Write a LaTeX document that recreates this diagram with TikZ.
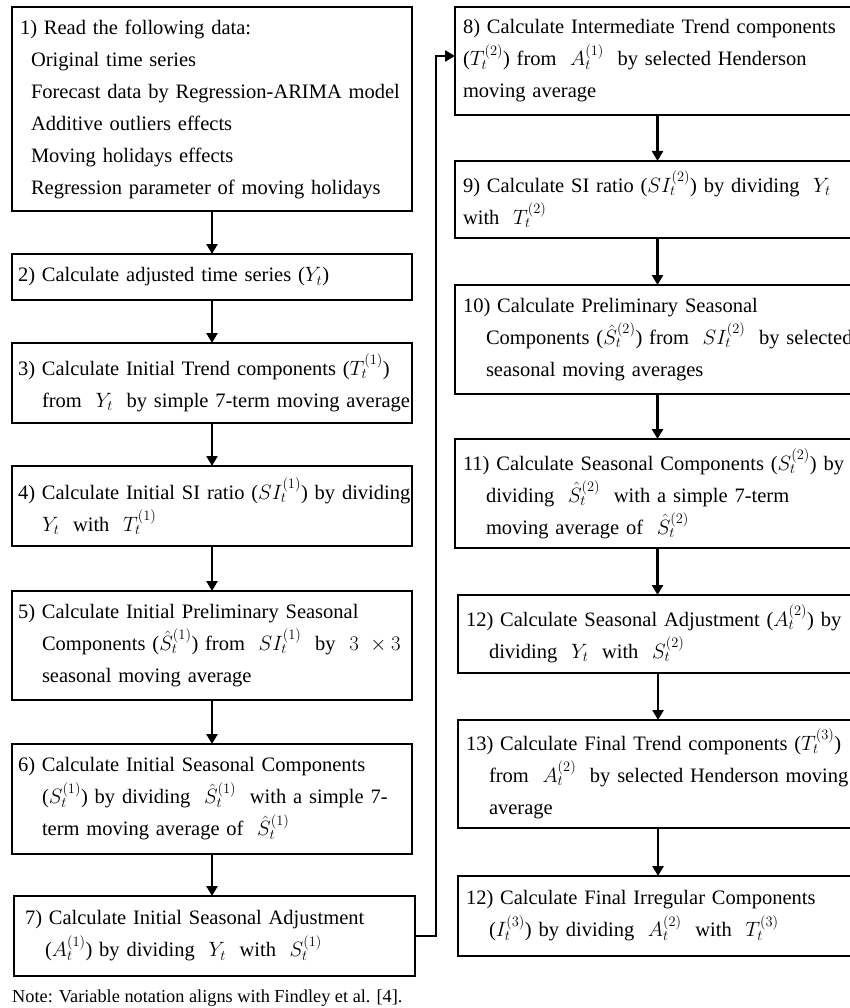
\documentclass[tikz,border=0pt]{standalone}
\usepackage{fontspec}
\setmainfont{Liberation Serif}
\usetikzlibrary{arrows.meta}
\newcommand{\ind}{\hspace*{24pt}}
\newcommand{\rind}{\hspace*{23pt}}
\tikzset{
  box/.style={draw, line width=2.6pt, anchor=north west, align=left, outer sep=0pt,
    inner ysep=0pt, font=\fontsize{20.5}{32}\selectfont},
  arr/.style={line width=2.6pt, -{Triangle[length=10pt,width=11pt]}}
}
\begin{document}
\begin{tikzpicture}[x=1pt,y=-1pt]
\useasboundingbox (0,0) rectangle (849,1008);
% left column
\node[box, minimum width=400pt, minimum height=204pt, inner xsep=8pt, text width=384pt] (b1) at (12,7)
 {\mbox{1) Read the following data:}\\
  \mbox{\hspace*{11pt}Original time series}\\
  \mbox{\hspace*{11pt}Forecast data by Regression-ARIMA model}\\
  \mbox{\hspace*{11pt}Additive outliers effects}\\
  \mbox{\hspace*{11pt}Moving holidays effects}\\
  \mbox{\hspace*{11pt}Regression parameter of moving holidays}};
\node[box, minimum width=400pt, minimum height=46pt, inner xsep=6pt, text width=388pt] (b2) at (12,254)
 {\mbox{2) Calculate adjusted time series ($Y_t$)}};
\node[box, minimum width=400pt, minimum height=80pt, inner xsep=6pt, text width=388pt] (b3) at (12,343)
 {\mbox{3) Calculate Initial Trend components ($T_t^{(1)}$)}\\
  \mbox{\ind from \ $Y_t$ \ by simple 7-term moving average}};
\node[box, minimum width=400pt, minimum height=80pt, inner xsep=6pt, text width=388pt] (b4) at (12,466)
 {\mbox{4) Calculate Initial SI ratio ($SI_t^{(1)}$) by dividing}\\
  \mbox{\ind $Y_t$ \ with \ $T_t^{(1)}$}};
\node[box, minimum width=400pt, minimum height=109pt, inner xsep=6pt, text width=388pt] (b5) at (12,591)
 {\mbox{5) Calculate Initial Preliminary Seasonal}\\
  \mbox{\ind Components ($\hat{S}_t^{(1)}$) from \ $SI_t^{(1)}$ \ by \ $3\ \times 3$}\\
  \mbox{\ind seasonal moving average}};
\node[box, minimum width=400pt, minimum height=110pt, inner xsep=6pt, text width=388pt] (b6) at (12,744)
 {\mbox{6) Calculate Initial Seasonal Components}\\
  \mbox{\ind ($S_t^{(1)}$) by dividing \ $\hat{S}_t^{(1)}$ \ with a simple 7-}\\
  \mbox{\ind term moving average of \ $\hat{S}_t^{(1)}$}};
\node[box, minimum width=401pt, minimum height=80pt, inner xsep=11pt, text width=379pt] (b7) at (14,896)
 {\mbox{7) Calculate Initial Seasonal Adjustment}\\
  \mbox{\hspace*{20pt}($A_t^{(1)}$) by dividing \ $Y_t$ \ with \ $S_t^{(1)}$}};
% right column
\node[box, minimum width=405pt, minimum height=108pt, inner xsep=8pt, text width=389pt] (b8) at (455,7)
 {\mbox{8) Calculate Intermediate Trend components}\\
  \mbox{($T_t^{(2)}$) from \ $A_t^{(1)}$ \ by selected Henderson}\\
  \mbox{moving average}};
\node[box, minimum width=405pt, minimum height=77pt, inner xsep=8pt, text width=389pt] (b9) at (455,161)
 {\mbox{9) Calculate SI ratio ($SI_t^{(2)}$) by dividing \ $Y_t$}\\
  \mbox{with \ $T_t^{(2)}$}};
\node[box, minimum width=405pt, minimum height=109pt, inner xsep=8pt, text width=389pt] (b10) at (455,285)
 {\mbox{10) Calculate Preliminary Seasonal}\\
  \mbox{\rind Components ($\hat{S}_t^{(2)}$) from \ $SI_t^{(2)}$ \ by selected}\\
  \mbox{\rind seasonal moving averages}};
\node[box, minimum width=405pt, minimum height=109pt, inner xsep=8pt, text width=389pt] (b11) at (455,439)
 {\mbox{11) Calculate Seasonal Components ($S_t^{(2)}$) by}\\
  \mbox{\rind dividing \ $\hat{S}_t^{(2)}$ \ with a simple 7-term}\\
  \mbox{\rind moving average of \ $\hat{S}_t^{(2)}$}};
\node[box, minimum width=400pt, minimum height=78pt, inner xsep=8pt, text width=384pt] (b12) at (458,595)
 {\mbox{12) Calculate Seasonal Adjustment ($A_t^{(2)}$) by}\\
  \mbox{\rind dividing \ $Y_t$ \ with \ $S_t^{(2)}$}};
\node[box, minimum width=400pt, minimum height=108pt, inner xsep=8pt, text width=384pt] (b13) at (458,720)
 {\mbox{13) Calculate Final Trend components ($T_t^{(3)}$)}\\
  \mbox{\rind from \ $A_t^{(2)}$ \ by selected Henderson moving}\\
  \mbox{\rind average}};
\node[box, minimum width=400pt, minimum height=80pt, inner xsep=8pt, text width=384pt] (b14) at (458,876)
 {\mbox{12) Calculate Final Irregular Components}\\
  \mbox{\rind ($I_t^{(3)}$) by dividing \ $A_t^{(2)}$ \ with \ $T_t^{(3)}$}};
% note
\node[anchor=base west, inner sep=0pt, font=\fontsize{18.3}{22}\selectfont] (note) at (12,1002)
 {Note: Variable notation aligns with Findley et al. [4].};
% connectors
\draw[arr] (b1.south) -- (b2.north);
\draw[arr] (b2.south) -- (b3.north);
\draw[arr] (b3.south) -- (b4.north);
\draw[arr] (b4.south) -- (b5.north);
\draw[arr] (b5.south) -- (b6.north);
\draw[arr] (b6.south) -- (b6.south |- b7.north);
\draw[arr] (b7.east) -- ++(21,0) |- ([yshift=5pt]b8.west);
\draw[arr] (b8.south) -- (b9.north);
\draw[arr] (b9.south) -- (b10.north);
\draw[arr] (b10.south) -- (b11.north);
\draw[arr] (b11.south) -- (b11.south |- b12.north);
\draw[arr] (b12.south) -- (b13.north);
\draw[arr] (b13.south) -- (b14.north);
\end{tikzpicture}
\end{document}
